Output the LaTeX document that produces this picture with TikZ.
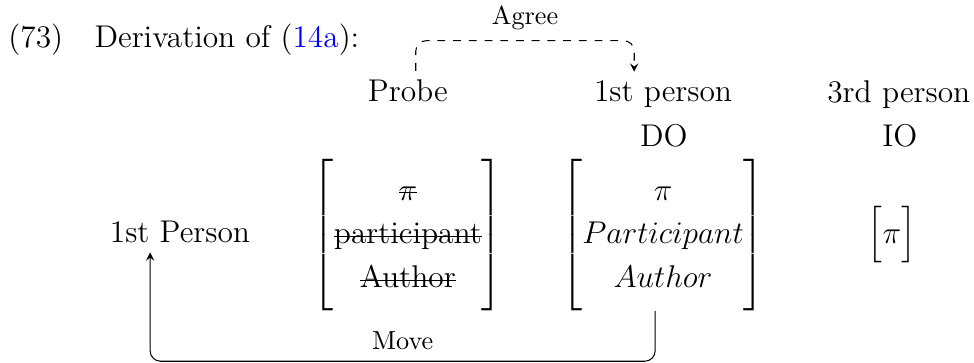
\documentclass[12pt,tikz,border=0pt]{standalone}
\usepackage{xcolor}
\usepackage{tikz}
\usetikzlibrary{positioning,calc}
\usepackage{amsmath}
\usetikzlibrary{arrows}
\tikzstyle{word} = [inner sep=3.33pt, anchor=base]
\tikzstyle{feat} = [inner sep=0pt, anchor=base]
\tikzstyle{lbl} = [font=\footnotesize, above]
\tikzstyle{agreearrow} = [dashed, rounded corners, ->, >=stealth]
\tikzstyle{movearrow} = [rounded corners, ->, >=stealth]
\newcommand{\struck}[1]{\setbox0\hbox{#1}\rlap{\rule[0.5ex]{\wd0}{0.4pt}}\box0}
\renewcommand{\arraystretch}{1.15}

\begin{document}
\begin{tikzpicture}
    \useasboundingbox (0,0) rectangle (371.8pt,-138.5pt);
    % We start by placing the heading
    \node [anchor=base west, inner sep=0pt] (num) at (3pt,-18.3pt) {(73)};
    \node [anchor=base west, inner sep=0pt] (head) at (35.9pt,-18.3pt) {Derivation of ({\color{blue}14a}):};
    % top rows
    \node [word] (probe) at (155.7pt,-38.9pt) {Probe};
    \node [word] (first) at (253.1pt,-38.9pt) {1st person};
    \node [word] (third) at (343.1pt,-39.2pt) {3rd person};
    \node [word] (do) at (253.4pt,-56.1pt) {DO};
    \node [word] (io) at (343.5pt,-55.8pt) {IO};
    % feature bundles
    \node [word] (person) at (68.7pt,-92.7pt) {1st Person};
    \node [feat] (fmat) at (155.7pt,-92.7pt) {\delimitershortfall=-3pt $\begin{bmatrix} \text{\struck{$\pi$}} \\ \text{\struck{participant}} \\ \text{\struck{Author}} \end{bmatrix}$};
    \node [feat] (dmat) at (253.1pt,-92.7pt) {\delimitershortfall=-3pt $\begin{bmatrix} \pi \\ Participant \\ Author \end{bmatrix}$};
    \node [feat] (imat) at (340.5pt,-92.7pt) {$\begin{bmatrix} \pi \end{bmatrix}$};
    % Agree and Move
    \draw [agreearrow] ([xshift=3pt]probe.north) -- ++(0,11.5pt) -| node[lbl, pos=0.25]{Agree} ([xshift=-11pt]first.north);
    \draw [movearrow] ([xshift=-3pt]dmat.south) -- ++(0,-19.2pt) -| node[lbl, pos=0.25]{Move} ([xshift=-11.4pt]person.south);
\end{tikzpicture}
\end{document}
